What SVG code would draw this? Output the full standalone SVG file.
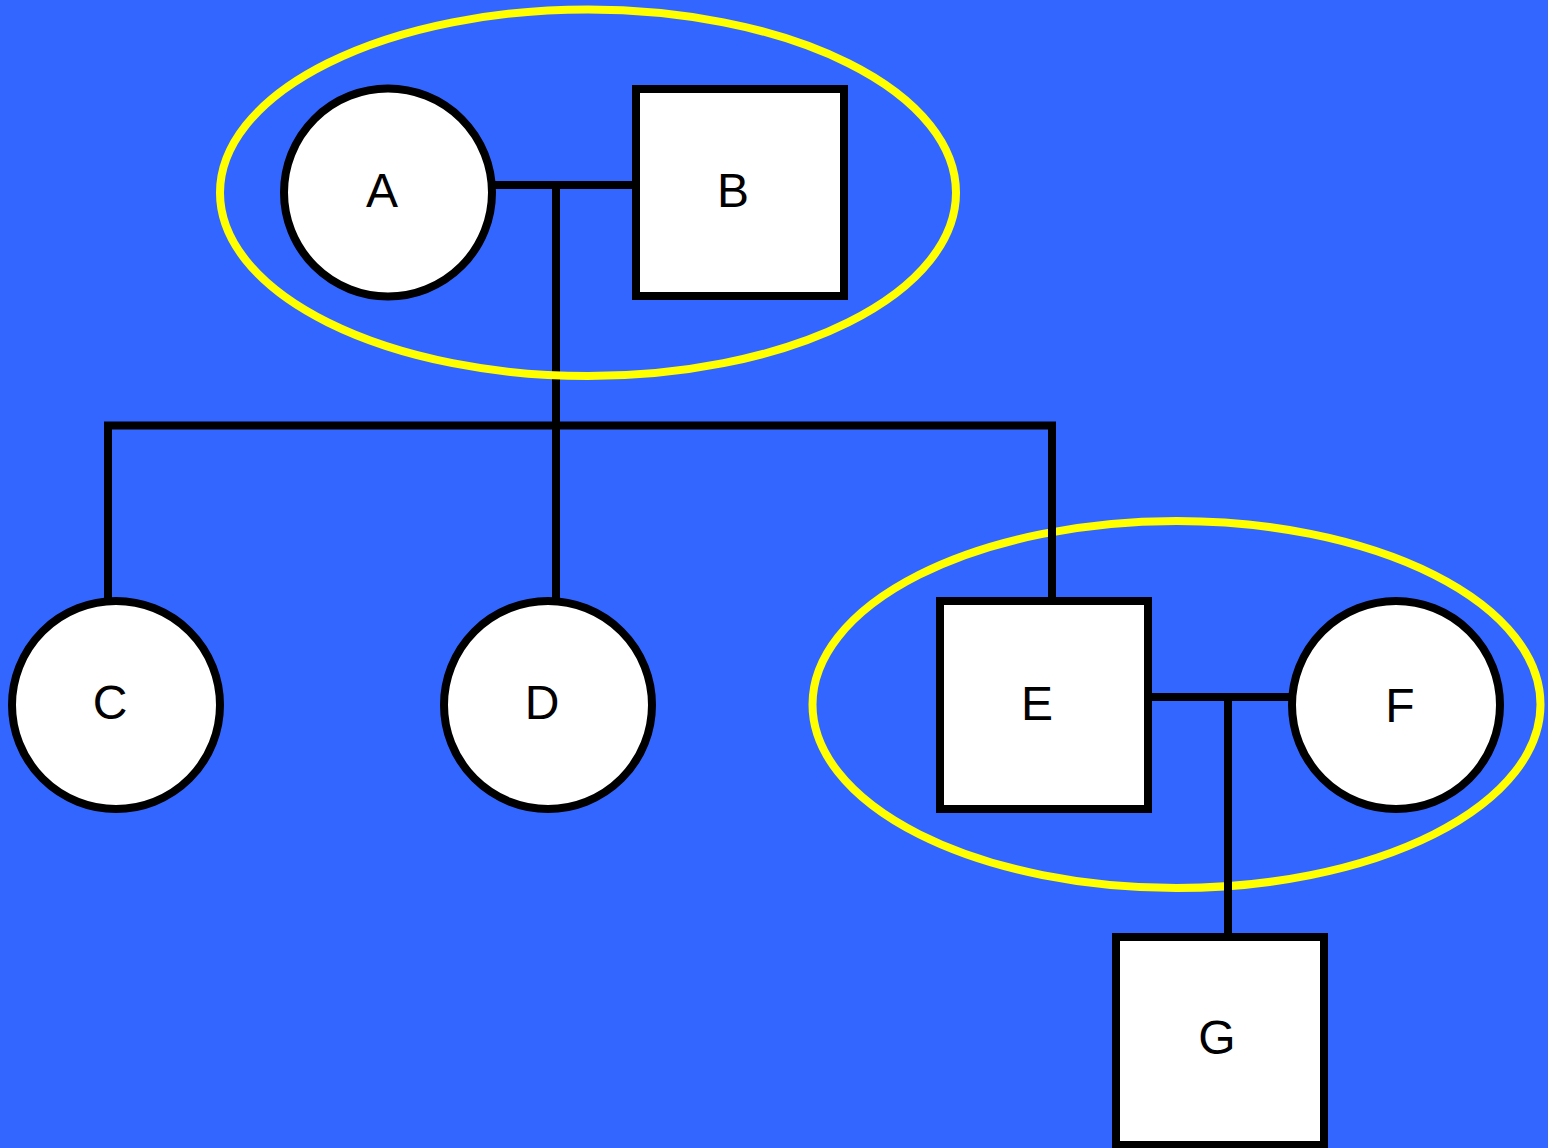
<svg xmlns="http://www.w3.org/2000/svg" width="1548" height="1148" viewBox="0 0 1548 1148">
<style>
.bg{fill:#3366FF}
.shape{fill:#FFFFFF;stroke:#000000;stroke-width:8}
.edge{fill:none;stroke:#000000;stroke-width:8;stroke-linejoin:miter;stroke-linecap:butt}
.couple{fill:none;stroke:#FFFF00;stroke-width:8}
.lbl{font-family:"Liberation Sans",Arial,sans-serif;font-size:48px;fill:#000000;text-anchor:middle}
</style>
<rect class="bg" x="0" y="0" width="1548" height="1148"/>
<g id="couple-EF">
<ellipse class="couple" cx="1176.5" cy="704.5" rx="364" ry="183.5"/>
</g>
<g id="connectors">
<path class="edge" d="M492,185 H636"/>
<path class="edge" d="M556,185 V425.5"/>
<path class="edge" d="M108,600 V425.5 H1052 V601"/>
<path class="edge" d="M556,425.5 V600"/>
<path class="edge" d="M1148,697 H1292"/>
<path class="edge" d="M1228,697 V937"/>
</g>
<g id="couple-AB">
<ellipse class="couple" cx="588" cy="192.75" rx="368" ry="183.3"/>
</g>
<g id="node-A">
<circle class="shape" cx="388" cy="192.5" r="104"/>
<text class="lbl" x="382" y="207">A</text>
</g>
<g id="node-B">
<rect class="shape" x="636" y="89" width="208" height="207"/>
<text class="lbl" x="733" y="207">B</text>
</g>
<g id="node-C">
<circle class="shape" cx="116" cy="705" r="104"/>
<text class="lbl" x="110" y="719">C</text>
</g>
<g id="node-D">
<circle class="shape" cx="548" cy="705" r="104"/>
<text class="lbl" x="542" y="719">D</text>
</g>
<g id="node-E">
<rect class="shape" x="940" y="601" width="208" height="208"/>
<text class="lbl" x="1037" y="720">E</text>
</g>
<g id="node-F">
<circle class="shape" cx="1396" cy="705" r="104"/>
<text class="lbl" x="1400" y="721.5">F</text>
</g>
<g id="node-G">
<rect class="shape" x="1116" y="937" width="208" height="208"/>
<text class="lbl" x="1217" y="1054">G</text>
</g>
</svg>
